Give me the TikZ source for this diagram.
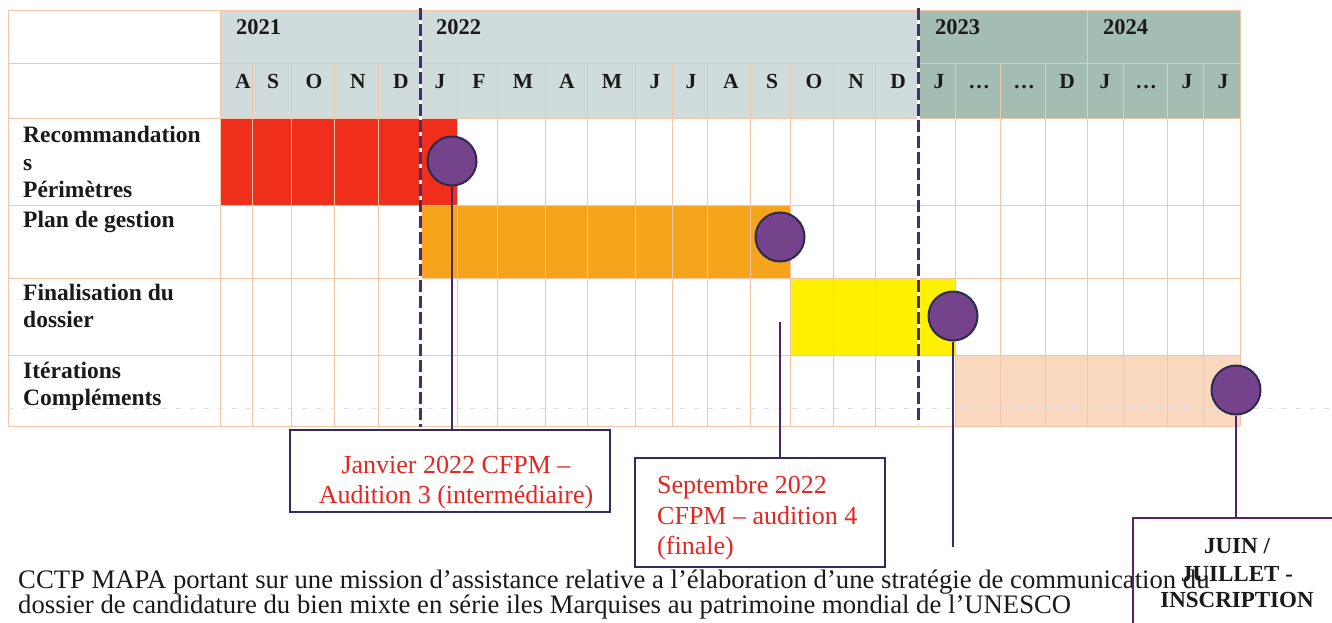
\documentclass[tikz,border=0pt]{standalone}
\usepackage{fontspec}
\setmainfont{Liberation Serif}
\usetikzlibrary{calc}
\definecolor{hdrA}{HTML}{CFDCDB}
\definecolor{hdrB}{HTML}{A3BDB2}
\definecolor{gridc}{HTML}{F2C6A6}
\definecolor{redbar}{HTML}{EF2E1B}
\definecolor{orangebar}{HTML}{F6A41C}
\definecolor{yellowbar}{HTML}{FFF100}
\definecolor{peachbar}{HTML}{FAD8C0}
\definecolor{dashc}{HTML}{4B2C6F}
\definecolor{circfill}{HTML}{74438C}
\definecolor{circedge}{HTML}{2D2A4C}
\definecolor{linkc}{HTML}{4E2468}
\definecolor{boxc}{HTML}{35295F}
\definecolor{boxthree}{HTML}{5B2163}
\definecolor{calred}{HTML}{E5251F}
\definecolor{textc}{HTML}{1A1A1A}
\definecolor{faint}{HTML}{DEDEDE}
\begin{document}
\begin{tikzpicture}[x=1pt,y=-1pt,
  gridline/.style={draw=gridc, line width=1pt},
  rowlabel/.style={font=\fontsize{23.5}{27}\selectfont\bfseries, text=textc, anchor=base west, inner sep=0pt},
  yearlabel/.style={font=\fontsize{22.5}{27}\selectfont\bfseries, text=textc, anchor=base west, inner sep=0pt},
  monthlabel/.style={font=\fontsize{21.5}{25}\selectfont\bfseries, text=textc, anchor=base, inner sep=0pt},
  milestone/.style={circle, draw=circedge, fill=circfill, line width=2pt, minimum size=49pt, inner sep=0pt},
  callout/.style={rectangle, draw=boxc, line width=2.2pt, inner sep=0pt},
  calloutthree/.style={rectangle, draw=boxthree, line width=2.2pt, inner sep=0pt},
  calltext/.style={font=\fontsize{26}{31}\selectfont, text=calred, inner sep=0pt},
  finaltext/.style={font=\fontsize{23}{27}\selectfont\bfseries, text=textc, anchor=base, inner sep=0pt},
  bodytext/.style={font=\fontsize{26.7}{25}\selectfont, text=textc, anchor=base west, inner sep=0pt},
  link/.style={draw=linkc, line width=2pt},
  yearsep/.style={draw=dashc, line width=3pt, dash pattern=on 12pt off 4pt},
  yearsepback/.style={draw=white, line width=3pt}
]
\useasboundingbox (0,0) rectangle (1332,622);
\fill[white] (0,0) rectangle (1332,622);

% header fills
\fill[hdrA] (220,10) rectangle (918,118);
\fill[hdrB] (918,10) rectangle (1240,118);

% task bars
\fill[redbar] (220,118) rectangle (457,205);
\fill[orangebar] (420,205) rectangle (790,278);
\fill[yellowbar] (790,278) rectangle (955,355);
\fill[peachbar] (955,355) rectangle (1240,426);

% grid
\foreach \y in {10,63,118,205,278,355,426} \draw[gridline] (8,\y) -- (1240,\y);
\draw[gridline] (8,10) -- (8,426);
\draw[gridline] (220,10) -- (220,426);
\draw[gridline] (1087,10) -- (1087,63);
\draw[gridline] (1240,10) -- (1240,426);
\foreach \x in {252,291,334,378,457,497,545,587,635,672,707,750,790,833,875,955,1000,1045,1087,1123,1167,1203}
  \draw[gridline] (\x,63) -- (\x,426);

% faint scan line
\draw[faint, line width=0.8pt, dash pattern=on 5pt off 9pt] (8,408) -- (1332,408);

% year separators
\draw[yearsepback] (420,8) -- (420,427);
\draw[yearsep] (420,8) -- (420,427);
\draw[yearsepback] (918,8) -- (918,424);
\draw[yearsep] (918,8) -- (918,424);

% years
\node[yearlabel] (y2021) at (236,34) {2021};
\node[yearlabel] (y2022) at (436,34) {2022};
\node[yearlabel] (y2023) at (935,34) {2023};
\node[yearlabel] (y2024) at (1103,34) {2024};

% months
\foreach \x/\m [count=\i] in {243/A,273/S,314/O,358/N,401/D,440/J,479/F,523/M,567/A,612/M,655/J,691/J,731/A,772/S,814/O,856/N,898/D,939/J,979/…,1024/…,1067/D,1105/J,1146/…,1187/J,1223/J}
  \node[monthlabel] (mon\i) at (\x,88) {\m};

% row labels
\node[rowlabel] (r1a) at (23,142) {Recommandation};
\node[rowlabel] (r1b) at (23,170) {s};
\node[rowlabel] (r1c) at (23,197) {Périmètres};
\node[rowlabel] (r2a) at (23,227) {Plan de gestion};
\node[rowlabel] (r3a) at (23,300) {Finalisation du};
\node[rowlabel] (r3b) at (23,327) {dossier};
\node[rowlabel] (r4a) at (23,378) {Itérations};
\node[rowlabel] (r4b) at (23,405) {Compléments};

% body text
\node[bodytext] (p1) at (18,588) {CCTP MAPA portant sur une mission d’assistance relative a l’élaboration d’une stratégie de communication du};
\node[bodytext] (p2) at (18,613) {dossier de candidature du bien mixte en série iles Marquises au patrimoine mondial de l’UNESCO};

% callout boxes
\node[callout, minimum width=320pt, minimum height=82pt] (b1) at (450,471) {};
\node[callout, minimum width=250pt, minimum height=109pt] (b2) at (760,512.5) {};
\node[calloutthree, minimum width=210pt, minimum height=130pt, anchor=north west] (b3) at (1132,517) {};

\node[calltext, anchor=base] (t1a) at (456,473) {Janvier 2022 CFPM –};
\node[calltext, anchor=base] (t1b) at (456,503) {Audition 3 (intermédiaire)};
\node[calltext, anchor=base west] (t2a) at (657,493) {Septembre 2022};
\node[calltext, anchor=base west] (t2b) at (657,524) {CFPM – audition 4};
\node[calltext, anchor=base west] (t2c) at (657,554) {(finale)};
\node[finaltext] (t3a) at (1237,553) {JUIN /};
\node[finaltext] (t3b) at (1237,581) {JUILLET -};
\node[finaltext] (t3c) at (1237,607) {INSCRIPTION};

% milestones
\node[milestone] (c1) at (452,161) {};
\node[milestone] (c2) at (780,237) {};
\node[milestone] (c3) at (953,316) {};
\node[milestone] (c4) at (1236,390) {};

% connectors
\draw[link] (c1.south) -- (c1.south |- b1.north);
\coordinate (l2) at (780,322);
\draw[link] (l2) -- (l2 |- b2.north);
\coordinate (l3) at (953,547);
\draw[link] (c3.south) -- (l3);
\draw[link] (c4.south) -- (c4.south |- b3.north);
\end{tikzpicture}
\end{document}
